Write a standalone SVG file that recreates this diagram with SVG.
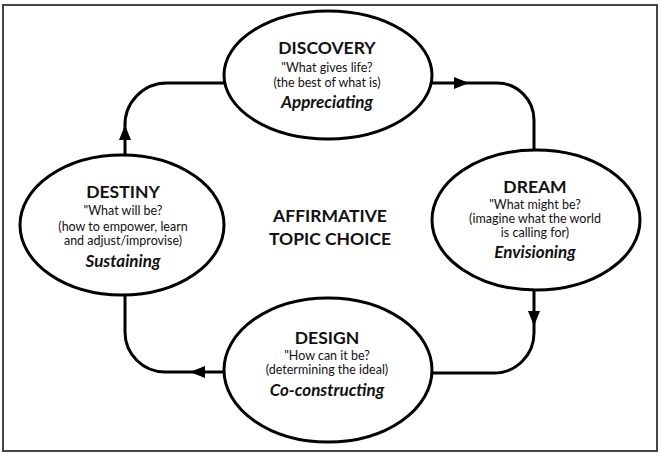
<svg xmlns="http://www.w3.org/2000/svg" width="663" height="456" viewBox="0 0 663 456">
<style>
.node{fill:#fff;stroke:#000;stroke-width:3}
.conn{fill:none;stroke:#000;stroke-width:3}
.arrow{fill:#000}
text{font-family:"Lato","Open Sans","Liberation Sans",sans-serif;fill:#111;text-anchor:middle}
.t{font-size:17.5px;font-weight:bold}
.s{font-size:12.5px}
.v{font-size:17px;font-weight:bold;font-style:italic}
</style>
<rect x="0" y="0" width="663" height="456" fill="#fff"/>
<rect x="3" y="5" width="654" height="446" fill="none" stroke="#444" stroke-width="2"/>
<g id="connectors">
<path class="conn" d="M125,156 V127 A42,42 0 0 1 167,83 H226"/>
<polygon class="arrow" points="125,125 119,140 131,140"/>
<path class="conn" d="M430,83 H497 A37,37 0 0 1 534,120 V151"/>
<polygon class="arrow" points="469,83 454,77 454,89"/>
<path class="conn" d="M534,289 V333 A40,40 0 0 1 494,373 H431"/>
<polygon class="arrow" points="534,326 528,311 540,311"/>
<path class="conn" d="M225,372 H165 A40,40 0 0 1 125,332 V294"/>
<polygon class="arrow" points="190,372 205,366 205,378"/>
</g>
<g id="discovery">
<ellipse class="node" cx="328" cy="75" rx="104" ry="64"/>
<text class="t" x="327" y="54">DISCOVERY</text>
<text class="s" x="327" y="72">"What gives life?</text>
<text class="s" x="327" y="87">(the best of what is)</text>
<text class="v" x="327" y="108">Appreciating</text>
</g>
<g id="dream">
<ellipse class="node" cx="536" cy="220" rx="104" ry="70"/>
<text class="t" x="535" y="193">DREAM</text>
<text class="s" x="535" y="209">"What might be?</text>
<text class="s" x="535" y="223">(imagine what the world</text>
<text class="s" x="535" y="237">is calling for)</text>
<text class="v" x="535" y="258">Envisioning</text>
</g>
<g id="design">
<ellipse class="node" cx="328" cy="370" rx="104" ry="72"/>
<text class="t" x="327" y="344">DESIGN</text>
<text class="s" x="327" y="360">"How can it be?</text>
<text class="s" x="327" y="374">(determining the ideal)</text>
<text class="v" x="327" y="396">Co-constructing</text>
</g>
<g id="destiny">
<ellipse class="node" cx="122" cy="225" rx="102" ry="70"/>
<text class="t" x="123" y="198">DESTINY</text>
<text class="s" x="123" y="215">"What will be?</text>
<text class="s" x="123" y="231">(how to empower, learn</text>
<text class="s" x="123" y="245">and adjust/improvise)</text>
<text class="v" x="123" y="267">Sustaining</text>
</g>
<g id="center">
<text class="t" x="330" y="222">AFFIRMATIVE</text>
<text class="t" x="330" y="245">TOPIC CHOICE</text>
</g>
</svg>
